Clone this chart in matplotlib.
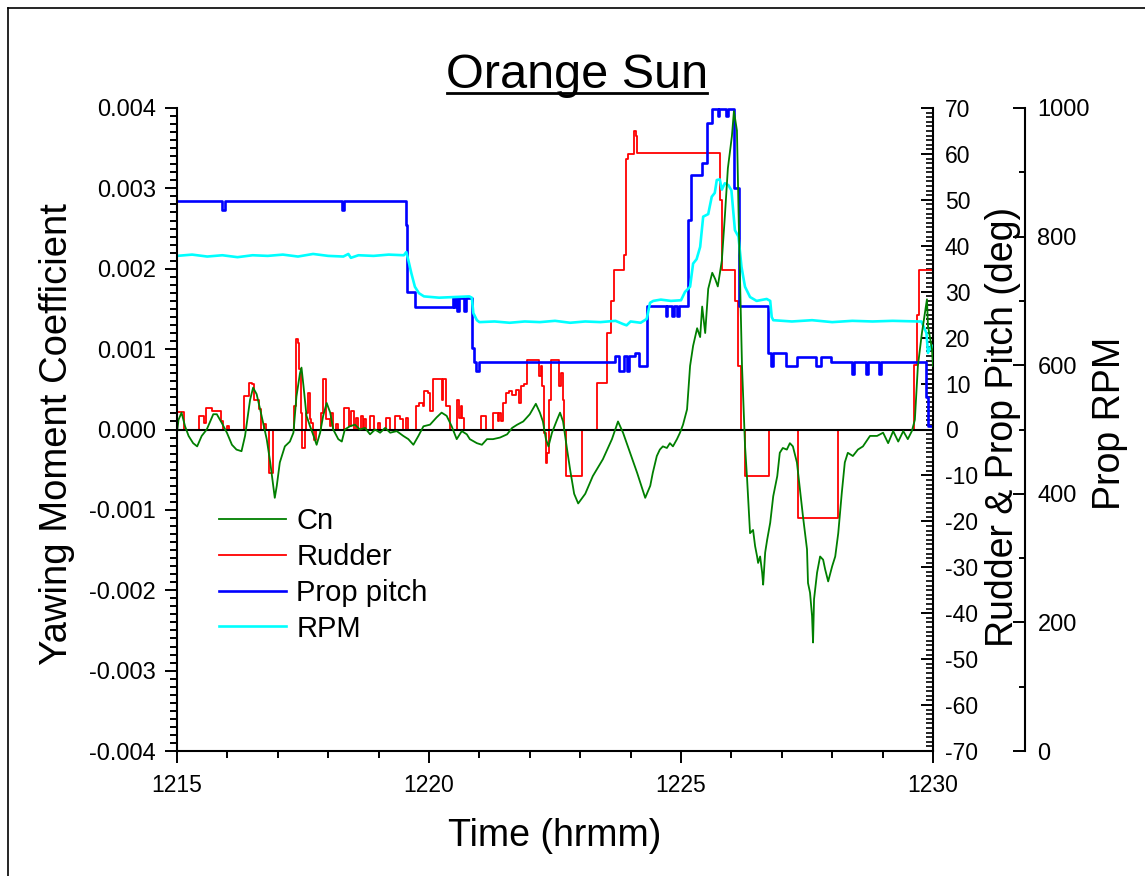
import numpy as np
import matplotlib.pyplot as plt
from matplotlib.ticker import MultipleLocator, FormatStrFormatter
from matplotlib.lines import Line2D

plt.rcParams['font.family'] = ['Liberation Sans', 'DejaVu Sans']
plt.rcParams['axes.unicode_minus'] = False

W, H = 1145, 876

# time is minutes after 12:15
time_ticks = [0, 5, 10, 15]
time_labels = ['1215', '1220', '1225', '1230']

# yawing moment coefficient, in units of 1e-3
cn_t = [0.00, 0.03, 0.09, 0.16, 0.23, 0.32, 0.40, 0.49, 0.59, 0.72, 0.79, 0.89, 0.99, 1.09, 1.18, 1.28,
        1.35, 1.45, 1.51, 1.58, 1.65, 1.71, 1.78, 1.85, 1.91, 1.94, 1.98, 2.04, 2.14, 2.24, 2.31, 2.37,
        2.44, 2.47, 2.51, 2.57, 2.64, 2.71, 2.77, 2.84, 2.90, 2.97, 3.04, 3.10, 3.20, 3.27, 3.33, 3.43,
        3.53, 3.63, 3.73, 3.83, 3.93, 4.03, 4.13, 4.23, 4.36, 4.49, 4.59, 4.69, 4.79, 4.89, 5.02, 5.15,
        5.25, 5.35, 5.45, 5.55, 5.65, 5.75, 5.81, 5.95, 6.05, 6.15, 6.27, 6.41, 6.55, 6.65, 6.75, 6.87,
        7.00, 7.12, 7.20, 7.26, 7.32, 7.37, 7.44, 7.54, 7.60, 7.66, 7.74, 7.80, 7.88, 7.96, 8.10, 8.25,
        8.45, 8.63, 8.75, 8.85, 8.99, 9.13, 9.29, 9.39, 9.44, 9.52, 9.58, 9.64, 9.72, 9.78, 9.84, 9.92,
        9.98, 10.04, 10.12, 10.18, 10.24, 10.32, 10.38, 10.42, 10.48, 10.54, 10.62, 10.68, 10.73, 10.81,
        10.87, 10.93, 11.01, 11.05, 11.11, 11.15, 11.21, 11.27, 11.31, 11.37, 11.43, 11.47, 11.51, 11.53,
        11.57, 11.61, 11.63, 11.67, 11.71, 11.77, 11.83, 11.91, 11.96, 12.02, 12.10, 12.16, 12.22, 12.30,
        12.36, 12.42, 12.50, 12.52, 12.56, 12.60, 12.62, 12.64, 12.70, 12.76, 12.82, 12.86, 12.92, 13.00,
        13.06, 13.12, 13.19, 13.25, 13.31, 13.41, 13.51, 13.61, 13.75, 13.89, 14.01, 14.11, 14.21, 14.31,
        14.41, 14.50, 14.58, 14.64, 14.70, 14.78, 14.84, 14.88, 14.90, 14.98, 15.00]
cn_milli = [-0.04, 0.12, 0.21, 0.04, -0.08, -0.17, -0.21, -0.08, 0.00, 0.19, 0.19, 0.08, -0.04, -0.19,
            -0.25, -0.27, -0.08, 0.37, 0.52, 0.44, 0.25, 0.08, -0.12, -0.41, -0.70, -0.85, -0.70, -0.41,
            -0.21, -0.15, -0.04, 0.41, 0.70, 0.77, 0.54, 0.17, 0.04, -0.08, -0.19, -0.04, 0.17, 0.33,
            0.21, 0.00, -0.12, -0.15, 0.00, 0.04, 0.06, 0.00, 0.02, -0.06, 0.00, -0.04, 0.02, -0.04,
            -0.02, -0.08, -0.12, -0.19, -0.08, 0.04, 0.06, 0.15, 0.21, 0.17, 0.04, -0.12, -0.02, -0.06,
            -0.12, -0.17, -0.19, -0.12, -0.12, -0.10, -0.06, 0.02, 0.06, 0.10, 0.19, 0.32, 0.21, 0.10,
            -0.12, -0.21, -0.04, 0.12, 0.21, 0.10, -0.25, -0.50, -0.80, -0.92, -0.80, -0.58, -0.37, -0.12,
            0.10, -0.04, -0.29, -0.54, -0.85, -0.70, -0.54, -0.33, -0.25, -0.21, -0.23, -0.17, -0.21,
            -0.12, -0.04, 0.06, 0.25, 0.79, 1.04, 1.26, 1.15, 1.53, 1.20, 1.75, 1.95, 1.87, 1.78, 2.10,
            2.65, 3.25, 3.65, 3.96, 3.72, 2.45, 0.80, -0.20, -0.60, -1.29, -1.25, -1.45, -1.58, -1.66,
            -1.58, -1.78, -1.93, -1.53, -1.37, -1.16, -0.83, -0.58, -0.29, -0.23, -0.25, -0.17, -0.21,
            -0.41, -0.75, -1.08, -1.49, -1.91, -2.03, -2.32, -2.65, -2.11, -1.78, -1.58, -1.62, -1.74,
            -1.89, -1.70, -1.58, -1.29, -0.79, -0.41, -0.29, -0.33, -0.25, -0.21, -0.08, -0.08, -0.04,
            -0.17, -0.02, -0.15, -0.02, -0.12, -0.02, 0.12, 0.79, 1.20, 1.45, 1.62, 1.29, 1.00, 0.79]

# rudder angle (deg), value holds from each time until the next
rud_t = [0.00, 0.14, 0.44, 0.54, 0.57, 0.69, 0.87, 0.91, 1.00, 1.04, 1.33, 1.42, 1.48, 1.53, 1.62, 1.66,
         1.73, 1.77, 1.82, 1.91, 2.32, 2.36, 2.40, 2.43, 2.46, 2.49, 2.53, 2.56, 2.59, 2.63, 2.66, 2.69,
         2.72, 2.76, 2.86, 2.89, 2.96, 3.03, 3.06, 3.09, 3.16, 3.19, 3.32, 3.42, 3.45, 3.52, 3.55, 3.59,
         3.65, 3.69, 3.72, 3.75, 3.82, 3.91, 3.98, 4.02, 4.15, 4.22, 4.32, 4.42, 4.48, 4.55, 4.59, 4.74,
         4.81, 4.88, 4.91, 4.98, 5.01, 5.07, 5.25, 5.28, 5.34, 5.42, 5.55, 5.60, 5.63, 5.66, 5.70, 6.03,
         6.13, 6.26, 6.36, 6.39, 6.42, 6.46, 6.52, 6.59, 6.65, 6.72, 6.79, 6.82, 6.88, 6.95, 7.19, 7.22,
         7.25, 7.29, 7.32, 7.35, 7.39, 7.42, 7.58, 7.62, 7.65, 7.68, 7.71, 8.03, 8.34, 8.54, 8.62, 8.67,
         8.87, 8.90, 8.94, 9.07, 9.10, 9.13, 10.78, 10.82, 11.08, 11.14, 11.20, 11.27, 11.75, 12.33,
         13.12, 14.63, 14.68, 14.72, 15.00]
rudder = [3.8, 0.0, 2.9, 1.4, 4.7, 4.0, 1.8, 0.0, 0.7, 0.0, 7.3, 10.2, 9.8, 6.5, 4.4, 0.0,
          1.1, 0.0, -9.4, 0.0, 5.1, 19.6, 18.9, 13.1, 3.6, -4.0, 0.0, 3.6, 8.0, 2.2, 1.5, 0.0,
          -2.2, 0.0, 3.6, 10.9, 2.2, 0.7, 3.6, 0.0, 1.1, 0.0, 4.7, 0.7, 4.0, 0.0, 2.5, 0.0,
          2.9, 0.0, 2.2, 0.0, 2.9, 0.0, 1.5, 0.0, 2.5, 0.0, 2.9, 2.2, 0.0, 2.5, 0.0, 5.1,
          5.8, 5.1, 8.4, 8.0, 4.0, 10.9, 6.5, 10.9, 5.1, 0.0, 6.5, 2.5, 5.1, 2.5, 0.0, 2.9,
          0.0, 3.6, 1.8, 3.6, 1.8, 5.8, 8.0, 8.4, 7.6, 8.7, 5.8, 9.4, 9.8, 15.2, 11.6, 13.8,
          9.4, -0.7, -7.3, -5.1, 6.5, 15.2, 9.4, 12.3, 6.5, 0.0, -10.2, 0.0, 10.2, 21.0, 27.9, 34.8,
          38.1, 58.8, 59.9, 64.9, 63.9, 60.2, 50.0, 34.8, 27.9, 13.8, 0.0, -10.2, 0.0, -19.2,
          0.0, 14.0, 25.0, 34.8, 34.8]

# prop pitch (deg)
pitch_t = [0.00, 0.89, 0.95, 3.27, 3.31, 4.54, 4.57, 4.72, 5.47, 5.50, 5.53, 5.56, 5.60, 5.70, 5.74,
           5.85, 5.90, 5.94, 6.00, 8.70, 8.77, 8.86, 8.92, 8.96, 9.09, 9.17, 9.33, 9.70, 9.73, 9.83,
           9.86, 9.93, 9.96, 10.13, 10.19, 10.42, 10.52, 10.62, 10.73, 10.76, 10.90, 10.93, 11.05,
           11.15, 11.72, 11.79, 11.83, 12.08, 12.31, 12.68, 12.77, 12.98, 13.40, 13.44, 13.67, 13.71,
           13.93, 13.97, 14.86, 14.90, 15.00]
pitch = [49.7, 47.9, 49.7, 47.9, 49.7, 44.6, 29.9, 26.7, 28.7, 26.7, 28.7, 25.7, 28.7, 25.7, 28.7,
         17.8, 14.8, 12.7, 14.8, 15.9, 12.7, 15.9, 12.7, 15.9, 16.7, 13.8, 26.8, 24.7, 26.8, 24.7,
         26.8, 24.7, 26.8, 45.7, 55.5, 58.1, 66.8, 69.7, 68.3, 69.7, 68.3, 69.7, 52.6,
         26.8, 16.7, 13.8, 16.7, 13.8, 15.7, 13.8, 15.7, 14.8, 12.0, 14.8, 12.0, 14.8,
         12.0, 14.8, 7.0, 0.7, 0.7]

# prop speed (RPM)
rpm_t = [0.0, 0.3, 0.6, 0.9, 1.2, 1.5, 1.8, 2.1, 2.4, 2.7, 3.0, 3.3, 3.4, 3.45, 3.6, 3.9, 4.2, 4.5,
         4.55, 4.6, 4.65, 4.72, 4.80, 4.90, 5.2, 5.5, 5.8, 5.85, 5.88, 5.95, 6.0, 6.3, 6.6, 6.9, 7.2,
         7.5, 7.8, 8.1, 8.4, 8.7, 8.85, 8.92, 9.0, 9.2, 9.32, 9.385, 9.45, 9.6, 9.8, 10.0, 10.08,
         10.18, 10.24, 10.31, 10.38, 10.44, 10.54, 10.61, 10.67, 10.71, 10.77, 10.81, 10.87, 10.94,
         11.0, 11.07, 11.14, 11.2, 11.27, 11.37, 11.5, 11.7, 11.77, 11.80, 11.83, 12.2, 12.6, 13.0,
         13.4, 13.8, 14.2, 14.71, 14.77, 14.87, 14.9, 14.97, 15.0]
rpm = [770, 772, 769, 771, 768, 771, 770, 772, 769, 773, 770, 769, 773, 767, 771, 770, 772, 771,
       776, 760, 743, 722, 712, 707, 705, 706, 707, 705, 681, 670, 667, 668, 666, 668, 667,
       669, 666, 668, 667, 669, 664, 662, 668, 666, 672, 697, 700, 702, 700, 701, 714,
       722, 758, 765, 784, 831, 835, 862, 868, 888, 889, 873, 883, 880,
       872, 810, 800, 753, 722, 706, 700, 703, 700, 675, 670, 668, 670, 667,
       669, 668, 669, 668, 668, 650, 619, 631, 628]

fig = plt.figure(figsize=(W / 100, H / 100), dpi=100)
ax = fig.add_axes([177 / W, 1 - 751 / H, 756 / W, 643 / H])
ax2 = ax.twinx()
ax3 = ax.twinx()

# Cn on top of the other traces
ax.set_zorder(5)
ax.patch.set_visible(False)

l_cn, = ax.plot(cn_t, np.array(cn_milli) * 1e-3, color='#007f00', lw=1.3, label='Cn')
ax.axhline(0, color='black', lw=1.5, zorder=1)
l_rud, = ax2.step(rud_t, rudder, where='post', color='#ff0000', lw=1.3, label='Rudder')
l_pitch, = ax2.step(pitch_t, pitch, where='post', color='#0000ff', lw=1.9, label='Prop pitch')
l_rpm, = ax3.plot(rpm_t, rpm, color='#00ffff', lw=1.9, label='RPM')

ax.set_xlim(0, 15)
ax.set_ylim(-0.004, 0.004)
ax2.set_ylim(-70, 70)
ax3.set_ylim(0, 1000)

spine_w = 1.5
for a in (ax, ax2, ax3):
    for s in a.spines.values():
        s.set_visible(False)
        s.set_linewidth(spine_w)
ax.spines['left'].set_visible(True)
ax.spines['bottom'].set_visible(True)
ax2.spines['right'].set_visible(True)
ax3.spines['right'].set_visible(True)
ax3.spines['right'].set_position(('axes', 1 + 92 / 756))

ax.set_xticks(time_ticks)
ax.set_xticklabels(time_labels)
ax.xaxis.set_minor_locator(MultipleLocator(1))
ax.yaxis.set_major_locator(MultipleLocator(0.001))
ax.yaxis.set_minor_locator(MultipleLocator(0.0001))
ax.yaxis.set_major_formatter(FormatStrFormatter('%.3f'))
ax.tick_params(which='major', direction='out', length=8.5, width=1.4, labelsize=17, pad=6.5)
ax.tick_params(which='minor', direction='out', length=5, width=1.4)
ax.tick_params(axis='x', which='major', pad=8, labelsize=16.5)

ax2.yaxis.set_major_locator(MultipleLocator(10))
ax2.yaxis.set_minor_locator(MultipleLocator(1))
ax2.tick_params(which='major', direction='in', length=8.5, width=1.4, labelsize=16.5, pad=8.5)
ax2.tick_params(which='minor', direction='in', length=5, width=1.2)

ax3.yaxis.set_major_locator(MultipleLocator(200))
ax3.yaxis.set_minor_locator(MultipleLocator(100))
ax3.tick_params(which='major', direction='in', length=9, width=1.4, labelsize=17, pad=9)
ax3.tick_params(which='minor', direction='in', length=4.5, width=1.4)

fig.text(57 / W, 1 - 434 / H, 'Yawing Moment Coefficient', rotation=90, ha='center', va='center',
         fontsize=27.5)
fig.text(555 / W, 1 - 836 / H, 'Time (hrmm)', ha='center', va='center', fontsize=27)
fig.text(1003 / W, 1 - 427 / H, 'Rudder & Prop Pitch (deg)', rotation=90, ha='center', va='center',
         fontsize=27)
fig.text(1110 / W, 1 - 423 / H, 'Prop RPM', rotation=90, ha='center', va='center', fontsize=27)

# underlined title
fig.text(577 / W, 1 - 88 / H, 'Orange Sun', ha='center', va='baseline', fontsize=35)
fig.add_artist(Line2D([447 / W, 707 / W], [1 - 93 / H, 1 - 93 / H], color='black', lw=2))

# page border, left and top edges
fig.add_artist(Line2D([7.5 / W, 7.5 / W], [0, 1 - 7.5 / H], color='black', lw=1.2))
fig.add_artist(Line2D([7.5 / W, 1], [1 - 7.5 / H, 1 - 7.5 / H], color='black', lw=1.2))

ax.legend(handles=[l_cn, l_rud, l_pitch, l_rpm], loc='upper left',
          bbox_to_anchor=((219 - 177) / 756, (751 - 507) / 643), frameon=False, fontsize=21,
          handlelength=2.3, handletextpad=0.35, labelspacing=0.27, borderpad=0, borderaxespad=0)

fig.savefig('out.png', dpi=100)
